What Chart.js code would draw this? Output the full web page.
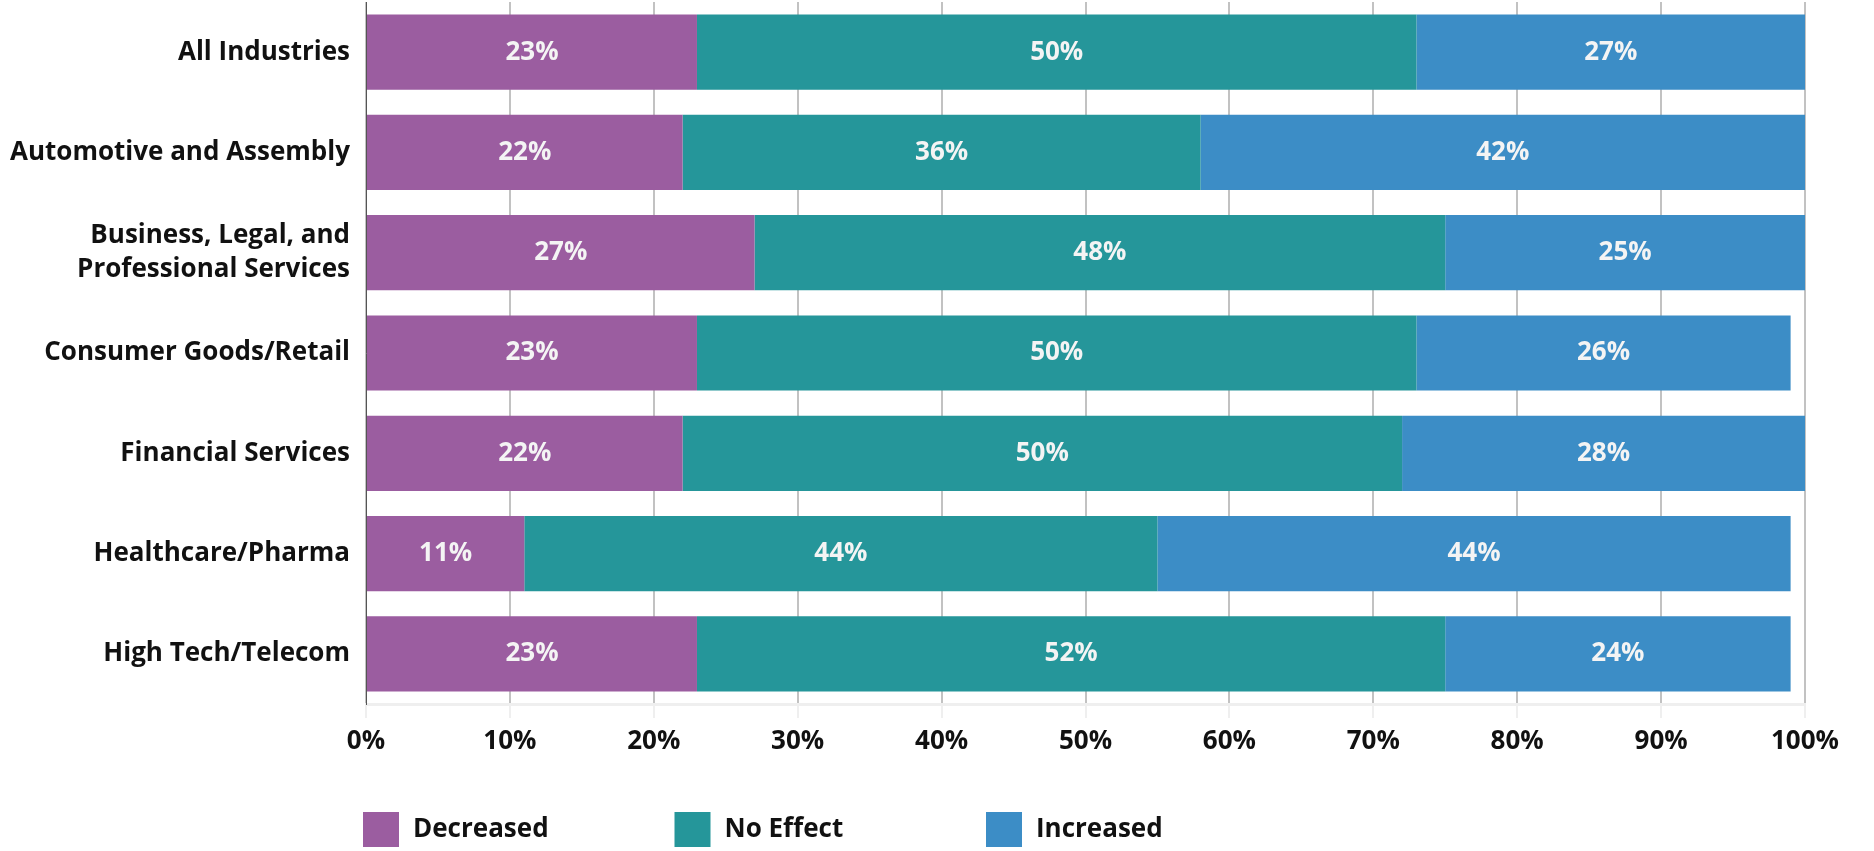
<!DOCTYPE html>
<html>
<head>
<meta charset="utf-8">
<script src="https://cdn.jsdelivr.net/npm/chart.js@4.4.1/dist/chart.umd.min.js"></script>
<style>
  html, body { margin: 0; padding: 0; background: #fff; }
  #wrap { width: 1874px; height: 851px; position: relative; }
</style>
</head>
<body>
<div id="wrap"><canvas id="impactChart"></canvas></div>
<script>
const industries = [
  "All Industries",
  "Automotive and Assembly",
  ["Business, Legal, and", "Professional Services"],
  "Consumer Goods/Retail",
  "Financial Services",
  "Healthcare/Pharma",
  "High Tech/Telecom",
];
const decreased = [23, 22, 27, 23, 22, 11, 23];
const noEffect = [50, 36, 48, 50, 50, 44, 52];
const increased = [27, 42, 25, 26, 28, 44, 24];
const xTicks = [0, 10, 20, 30, 40, 50, 60, 70, 80, 90, 100];

const FONT = "'Open Sans', Lato, sans-serif";
const FONT_SIZE = 26;

// white percentage in the middle of every segment
const barLabels = {
  id: "barLabels",
  afterDatasetsDraw(chart) {
    const ctx = chart.ctx;
    ctx.save();
    ctx.font = "bold " + FONT_SIZE + "px " + FONT;
    ctx.fillStyle = "#f4f4f4";
    ctx.textAlign = "center";
    ctx.textBaseline = "middle";
    chart.data.datasets.forEach((ds, i) => {
      const meta = chart.getDatasetMeta(i);
      meta.data.forEach((bar, j) => {
        const cx = (bar.x + bar.base) / 2;
        ctx.fillText(ds.data[j] + "%", cx, bar.y);
      });
    });
    ctx.restore();
  },
};

// legend row under the axis, items spaced evenly from the left edge of the plot
const squareLegend = {
  id: "squareLegend",
  afterDraw(chart) {
    const ctx = chart.ctx;
    const left = chart.chartArea.left - 3;
    const top = 812;
    ctx.save();
    ctx.font = "bold " + FONT_SIZE + "px " + FONT;
    ctx.textBaseline = "middle";
    ctx.textAlign = "left";
    chart.data.datasets.forEach((ds, i) => {
      const x = left + i * 311.5;
      ctx.fillStyle = ds.backgroundColor;
      ctx.fillRect(x, top, 36, 35);
      ctx.fillStyle = "#111";
      ctx.fillText(ds.label, x + 50, top + 18);
    });
    ctx.restore();
  },
};

const ctx = document.getElementById("impactChart").getContext("2d");
const chart = new Chart(ctx, {
  type: "bar",
  data: {
    labels: industries,
    datasets: [
      { label: "Decreased", data: decreased, backgroundColor: "#9b5da0" },
      { label: "No Effect", data: noEffect, backgroundColor: "#25969a" },
      { label: "Increased", data: increased, backgroundColor: "#3c8dc6" },
    ],
  },
  options: {
    indexAxis: "y",
    responsive: true,
    maintainAspectRatio: false,
    animation: false,
    datasets: {
      bar: {
        categoryPercentage: 1,
        barPercentage: 0.75,
        borderWidth: 0,
      },
    },
    layout: {
      padding: { top: 2, right: 69, bottom: 87, left: 0 },
    },
    plugins: {
      legend: { display: false },
      tooltip: { enabled: false },
    },
    scales: {
      x: {
        stacked: true,
        min: 0,
        max: 100,
        afterBuildTicks: (scale) => {
          scale.ticks = xTicks.map((v) => ({ value: v }));
        },
        afterFit: (scale) => {
          scale.height = 60;
        },
        grid: {
          color: "#c2c2c2",
          lineWidth: 2,
          tickColor: "#efefef",
          tickLength: 14,
        },
        border: { color: "#efefef", width: 3 },
        ticks: {
          color: "#111",
          padding: 8,
          font: { family: FONT, size: FONT_SIZE, weight: "bold" },
          callback: (v) => v + "%",
        },
      },
      y: {
        stacked: true,
        afterFit: (scale) => {
          scale.width = 366;
          // labels sit mid-category, no extra room needed above/below
          scale.paddingTop = 0;
          scale.paddingBottom = 0;
        },
        grid: { display: false, drawTicks: false },
        border: { display: true, color: "#555", width: 1 },
        ticks: {
          color: "#111",
          padding: 16,
          font: { family: FONT, size: FONT_SIZE, weight: "bold", lineHeight: 1.32 },
        },
      },
    },
  },
  plugins: [barLabels, squareLegend],
});
</script>
</body>
</html>
